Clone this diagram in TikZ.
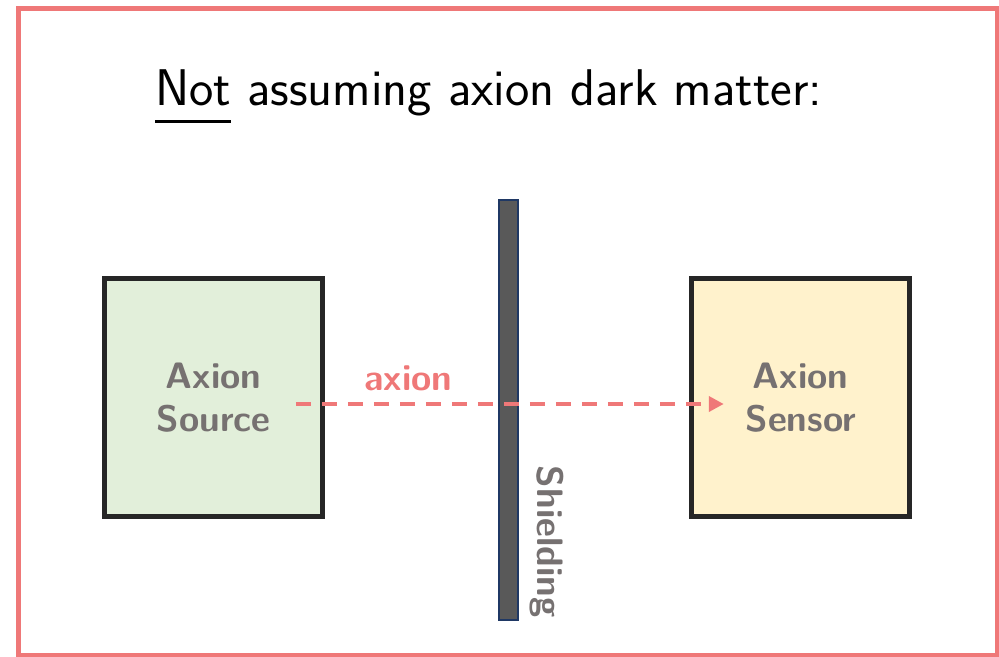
\documentclass[tikz,border=0pt]{standalone}
\usepackage{fontspec}
\usetikzlibrary{arrows.meta}

\definecolor{framered}{RGB}{239,120,120}
\definecolor{srcgreen}{RGB}{226,239,218}
\definecolor{snryellow}{RGB}{255,242,204}
\definecolor{boxline}{RGB}{38,38,38}
\definecolor{shieldfill}{RGB}{89,89,89}
\definecolor{shieldline}{RGB}{31,56,100}
\definecolor{labelgray}{RGB}{118,113,113}

\newcommand{\thickul}[1]{\setbox0\hbox{#1}\rlap{\rule[-8.7pt]{\wd0}{1.7pt}}#1}

\tikzset{
    devbox/.style={draw=boxline,line width=2.5pt,minimum width=109pt,
        minimum height=119pt,text=labelgray,align=center,
        font=\sffamily\bfseries\fontsize{18.4}{21.5}\selectfont},
    labeltext/.style={font=\sffamily\bfseries\fontsize{18.4}{21.5}\selectfont}
}

\begin{document}
\begin{tikzpicture}[x=0.5pt,y=-0.5pt]
    \useasboundingbox (0,0) rectangle (999,657);

    % Marco exterior.
    \draw[framered,line width=2.5pt] (18.5,8.5) rectangle (997,655);

    % Titulo.
    \node[anchor=base west,inner sep=0,font=\sffamily\fontsize{25.8}{30}\selectfont] (title)
        at (155,106) {\thickul{Not} assuming axion dark matter:};

    % Fuente y sensor.
    \node[devbox,fill=srcgreen] (src) at (213.75,397.5) {Axion\\Source};
    \node[devbox,fill=snryellow] (snr) at (800.75,397.5) {Axion\\Sensor};

    % Blindaje.
    \node[draw=shieldline,fill=shieldfill,line width=1pt,minimum width=9.5pt,
        minimum height=210pt,inner sep=0] (shd) at (508.5,410) {};
    \node[labeltext,text=labelgray,rotate=-90,anchor=south east,inner sep=0]
        (shdlabel) at ([xshift=5.5pt,yshift=1.5pt]shd.south east) {Shielding};

    % Axion que atraviesa el blindaje.
    \draw[framered,line width=2pt,dash pattern=on 7.5pt off 5.5pt,
        -{Triangle[length=7.5pt,width=7.5pt]}]
        ([xshift=-14.75pt,yshift=-3.25pt]src.east) -- ([xshift=17.25pt,yshift=-3.25pt]snr.west)
        node[labeltext,text=framered,pos=0.263,anchor=base,inner sep=0,yshift=7pt] (axlabel) {axion};
\end{tikzpicture}
\end{document}
